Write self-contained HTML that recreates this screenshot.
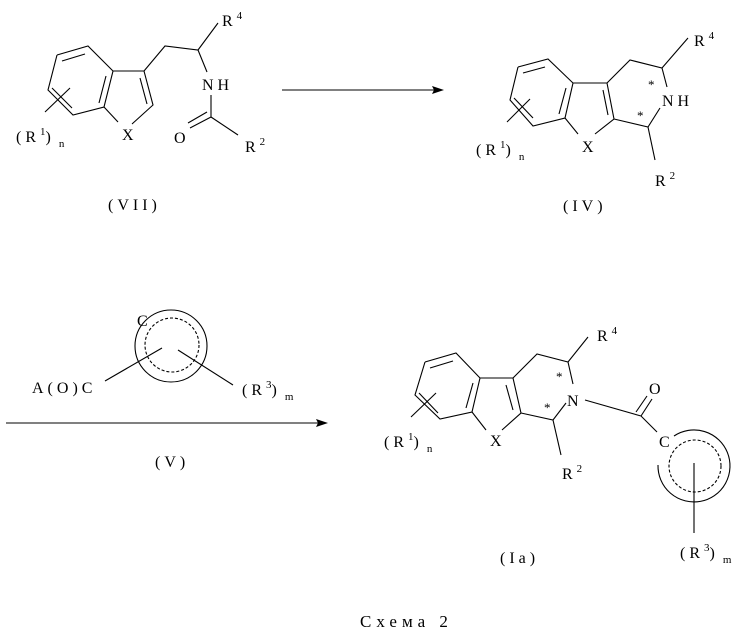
<!DOCTYPE html>
<html><head><meta charset="utf-8"><style>
html,body{margin:0;padding:0;background:#fff;}
svg{display:block;}
text{font-family:"Liberation Serif","DejaVu Serif",serif;font-size:16px;fill:#000;letter-spacing:4px;}
.s{font-size:11px;letter-spacing:0;}
.st{font-size:13px;letter-spacing:0;}
</style></head><body>
<svg width="736" height="632" viewBox="0 0 736 632" xmlns="http://www.w3.org/2000/svg">
<g stroke="#000" stroke-width="1.1" fill="none">
<!-- VII -->
<polyline points="57,55 88,46 113,71 104,107 73,115 48,90 57,55"/>
<line x1="62" y1="61" x2="85" y2="54"/><line x1="106" y1="76" x2="99" y2="103"/><line x1="52" y1="88" x2="72" y2="108"/>
<polyline points="113,71 144,71 153,105 132,124"/><line x1="104" y1="107" x2="118" y2="122"/>
<line x1="140" y1="78" x2="147" y2="104"/>
<polyline points="144,71 165,46 198,50 218,23"/><line x1="198" y1="50" x2="207" y2="72"/>
<line x1="211" y1="95" x2="211" y2="117"/><line x1="211" y1="117" x2="238" y2="135"/>
<line x1="211" y1="117" x2="190" y2="128"/><line x1="207" y1="112" x2="188" y2="123"/>
<line x1="45" y1="112" x2="70" y2="88"/>
<!-- top arrow -->
<line x1="282" y1="90" x2="436" y2="90"/>
<!-- IV -->
<polyline points="518,67 548,59 573,83 565,118 533,126 510,100 518,67"/>
<line x1="523" y1="73" x2="545" y2="67"/><line x1="566" y1="88" x2="559" y2="114"/><line x1="514" y1="98" x2="533" y2="118"/>
<polyline points="573,83 607,83 614,119 595,134"/><line x1="565" y1="118" x2="578" y2="134"/>
<line x1="603" y1="90" x2="608" y2="115"/>
<polyline points="607,83 630,60 662,68 688,38"/><line x1="662" y1="68" x2="667" y2="87"/>
<polyline points="660,108 648,127 614,119"/><line x1="648" y1="127" x2="655" y2="160"/>
<line x1="507" y1="122" x2="530" y2="99"/>
<!-- V -->
<circle cx="171" cy="346" r="36"/>
<circle cx="172" cy="345" r="27" stroke-dasharray="3,2"/>
<line x1="105" y1="381" x2="162" y2="348"/><line x1="178" y1="350" x2="233" y2="385"/>
<line x1="6" y1="423" x2="320" y2="423"/>
<!-- Ia -->
<polyline points="425,362 456,353 480,378 472,412 440,419 415,395 425,362"/>
<line x1="430" y1="368" x2="453" y2="361"/><line x1="473" y1="383" x2="466" y2="408"/><line x1="419" y1="393" x2="438" y2="413"/>
<polyline points="480,378 513,378 521,413 502,430"/><line x1="472" y1="412" x2="486" y2="430"/>
<line x1="506" y1="385" x2="513" y2="410"/>
<polyline points="513,378 537,354 568,362 588,337"/><line x1="568" y1="362" x2="573" y2="384"/>
<polyline points="566,403 553,420 521,413"/><line x1="553" y1="420" x2="561" y2="455"/>
<line x1="585" y1="400" x2="641" y2="416"/>
<line x1="641" y1="416" x2="652" y2="399"/><line x1="636" y1="412" x2="647" y2="396"/>
<line x1="641" y1="416" x2="657" y2="432"/>
<path d="M674,436 A36,36 0 1 1 658,465" />
<circle cx="695" cy="466" r="26" stroke-dasharray="3,2"/>
<line x1="694" y1="463" x2="694" y2="533"/>
<line x1="411" y1="417" x2="436" y2="393"/>
</g>
<polygon points="444,90 432,86 434,90 432,94" fill="#000"/>
<polygon points="328,423 316,419 318,423 316,427" fill="#000"/>
<!-- labels -->
<text x="222" y="26">R<tspan class="s" dy="-7">4</tspan></text>
<text x="202" y="90">NH</text>
<text x="174" y="143">O</text>
<text x="245" y="152">R<tspan class="s" dy="-7">2</tspan></text>
<text x="122" y="140">X</text>
<text x="16" y="142">(R<tspan class="s" dy="-7">1</tspan><tspan dy="7">)</tspan><tspan class="s" dx="4" dy="5">n</tspan></text>
<text x="108" y="210">(VII)</text>

<text x="694" y="46">R<tspan class="s" dy="-7">4</tspan></text>
<text x="662" y="106">NH</text>
<text x="648" y="89" class="st">*</text>
<text x="637" y="120" class="st">*</text>
<text x="582" y="152">X</text>
<text x="655" y="186">R<tspan class="s" dy="-7">2</tspan></text>
<text x="476" y="155">(R<tspan class="s" dy="-7">1</tspan><tspan dy="7">)</tspan><tspan class="s" dx="4" dy="5">n</tspan></text>
<text x="563" y="211">(IV)</text>

<text x="137" y="326">C</text>
<text x="32" y="393">A(O)C</text>
<text x="242" y="395">(R<tspan class="s" dy="-7">3</tspan><tspan dy="7">)</tspan><tspan class="s" dx="4" dy="5">m</tspan></text>
<text x="155" y="467">(V)</text>

<text x="597" y="341">R<tspan class="s" dy="-7">4</tspan></text>
<text x="567" y="406">N</text>
<text x="556" y="381" class="st">*</text>
<text x="544" y="412" class="st">*</text>
<text x="649" y="394">O</text>
<text x="659" y="447">C</text>
<text x="490" y="446">X</text>
<text x="562" y="479">R<tspan class="s" dy="-7">2</tspan></text>
<text x="384" y="447">(R<tspan class="s" dy="-7">1</tspan><tspan dy="7">)</tspan><tspan class="s" dx="4" dy="5">n</tspan></text>
<text x="500" y="563">(Ia)</text>
<text x="680" y="558">(R<tspan class="s" dy="-7">3</tspan><tspan dy="7">)</tspan><tspan class="s" dx="4" dy="5">m</tspan></text>

<text x="360" y="627" style="font-size:17px;letter-spacing:5px">Схема 2</text>
</svg>
</body></html>
